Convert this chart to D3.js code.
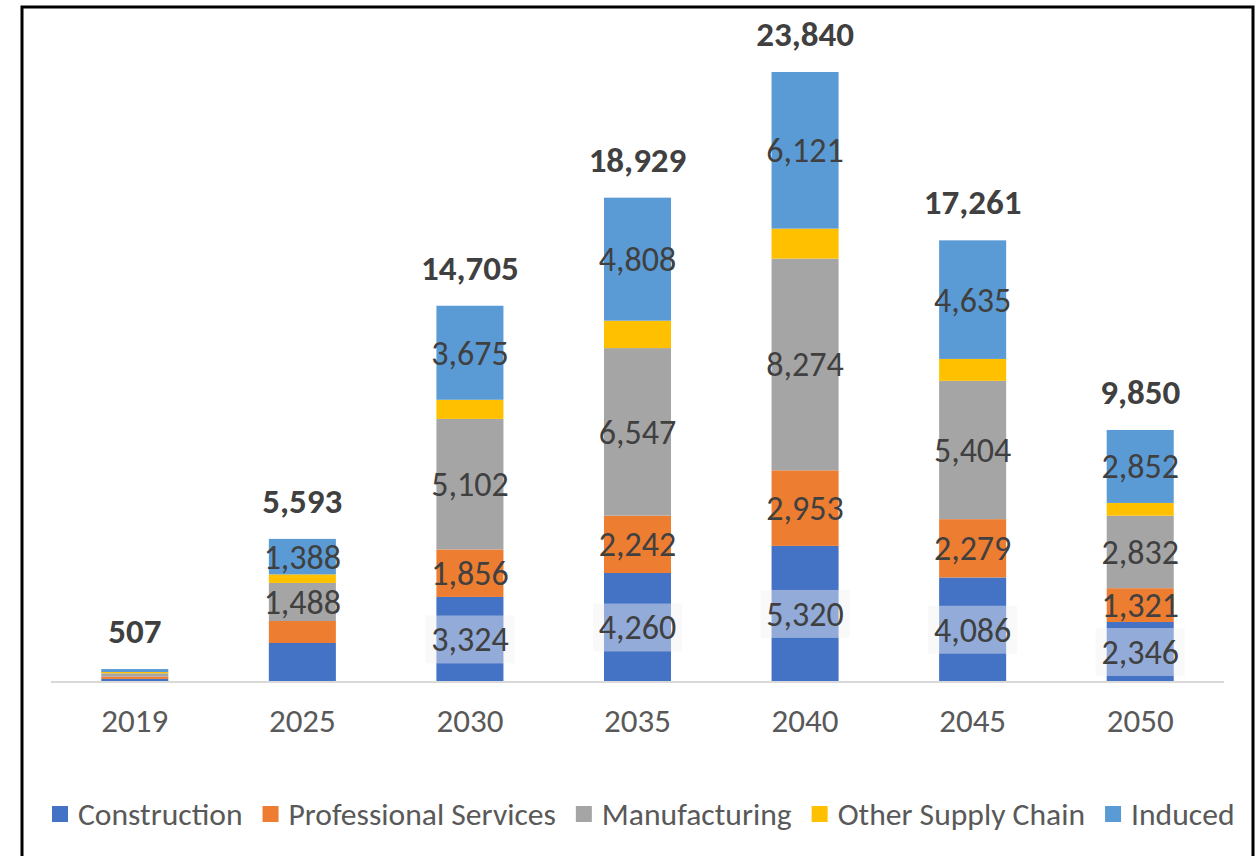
<!DOCTYPE html>
<html>
<head>
<meta charset="utf-8">
<script src="https://cdn.jsdelivr.net/npm/d3@7"></script>
<style>
	body { margin: 0; background: #fff; }
	svg { display: block; }
	text { font-family: Carlito, Lato, "Open Sans", sans-serif; }
</style>
</head>
<body>
<svg id="chart" width="1256" height="856"></svg>
<script>
var years = ["2019", "2025", "2030", "2035", "2040", "2045", "2050"];
var seriesNames = ["Construction", "Professional Services", "Manufacturing", "Other Supply Chain", "Induced"];
var seriesColors = ["#4472c4", "#ed7d31", "#a5a5a5", "#ffc000", "#5b9bd5"];

var construction = [120, 1524, 3324, 4260, 5320, 4086, 2346];
var professional = [90, 860, 1856, 2242, 2953, 2279, 1321];
var manufacturing = [130, 1488, 5102, 6547, 8274, 5404, 2832];
var otherSupply = [50, 333, 748, 1072, 1172, 857, 499];
var induced = [117, 1388, 3675, 4808, 6121, 4635, 2852];
var totals = [507, 5593, 14705, 18929, 23840, 17261, 9850];

// which segments carry a value label
var labelled = {
	"Construction": ["2030", "2035", "2040", "2045", "2050"],
	"Professional Services": ["2030", "2035", "2040", "2045", "2050"],
	"Manufacturing": ["2025", "2030", "2035", "2040", "2045", "2050"],
	"Other Supply Chain": [],
	"Induced": ["2025", "2030", "2035", "2040", "2045", "2050"]
};

var seriesValues = [construction, professional, manufacturing, otherSupply, induced];
var rows = years.map(function (y, i) {
	var r = { year: y };
	seriesNames.forEach(function (s, j) { r[s] = seriesValues[j][i]; });
	return r;
});

var svg = d3.select("#chart");
var baseY = 682;

var x = d3.scaleBand()
	.domain(years)
	.range([51, 1224])
	.paddingInner(0.6)
	.paddingOuter(0.3);

var y = d3.scaleLinear()
	.domain([0, 23840])
	.range([baseY, 72]);

var stack = d3.stack().keys(seriesNames);
var layers = stack(rows);

var fmt = d3.format(",");

// frame
svg.append("rect")
	.attr("x", 22)
	.attr("y", 7)
	.attr("width", 1231)
	.attr("height", 870)
	.attr("fill", "none")
	.attr("stroke", "#000")
	.attr("stroke-width", 3);

// bars
var layerG = svg.selectAll("g.layer")
	.data(layers)
	.enter().append("g")
	.attr("class", "layer")
	.attr("fill", function (d, i) { return seriesColors[i]; });

layerG.selectAll("rect")
	.data(function (d) { return d; })
	.enter().append("rect")
	.attr("x", function (d) { return x(d.data.year); })
	.attr("y", function (d) { return y(d[1]); })
	.attr("width", x.bandwidth())
	.attr("height", function (d) { return y(d[0]) - y(d[1]); });

// axis
var axisG = svg.append("g")
	.attr("transform", "translate(0," + baseY + ")")
	.call(d3.axisBottom(x).tickSize(0).tickPadding(27));
axisG.select(".domain")
	.attr("stroke", "#d9d9d9")
	.attr("stroke-width", 2)
	.attr("d", "M51,0H1224");
axisG.selectAll("text")
	.attr("fill", "#595959")
	.style("font-size", "33px");

// segment labels
layers.forEach(function (layer, i) {
	var name = seriesNames[i];
	var pts = layer.filter(function (d) { return labelled[name].indexOf(d.data.year) >= 0; });
	var lg = svg.append("g");
	pts.forEach(function (d) {
		var cx = x(d.data.year) + x.bandwidth() / 2;
		var cy = (y(d[0]) + y(d[1])) / 2;
		if (name === "Construction") {
			lg.append("rect")
				.attr("x", cx - 44.5)
				.attr("y", cy - 24)
				.attr("width", 89)
				.attr("height", 48)
				.attr("fill", "#f2f2f2")
				.attr("fill-opacity", 0.45);
		}
		lg.append("text")
			.attr("x", cx)
			.attr("y", cy)
			.attr("dy", "0.35em")
			.attr("text-anchor", "middle")
			.attr("fill", "#404040")
			.style("font-size", "34px")
			.text(fmt(d[1] - d[0]));
	});
});

// totals
svg.append("g").selectAll("text")
	.data(totals)
	.enter().append("text")
	.attr("x", function (d, i) { return x(years[i]) + x.bandwidth() / 2; })
	.attr("y", function (d) { return y(d) - 26; })
	.attr("text-anchor", "middle")
	.attr("fill", "#404040")
	.style("font-size", "35px")
	.style("font-weight", "bold")
	.text(function (d) { return fmt(d); });

// legend
var legend = svg.append("g").attr("transform", "translate(0,814)");
var items = legend.selectAll("g")
	.data(seriesNames)
	.enter().append("g");
items.append("rect")
	.attr("y", -8)
	.attr("width", 16)
	.attr("height", 16)
	.attr("fill", function (d, i) { return seriesColors[i]; });
items.append("text")
	.attr("x", 26)
	.attr("dy", "0.35em")
	.attr("fill", "#595959")
	.style("font-size", "31.6px")
	.text(function (d) { return d; });

var cursor = 52;
items.each(function () {
	var w = this.querySelector("text").getComputedTextLength();
	d3.select(this).attr("transform", "translate(" + cursor + ",0)");
	cursor += 26 + w + 20;
});
</script>
</body>
</html>
